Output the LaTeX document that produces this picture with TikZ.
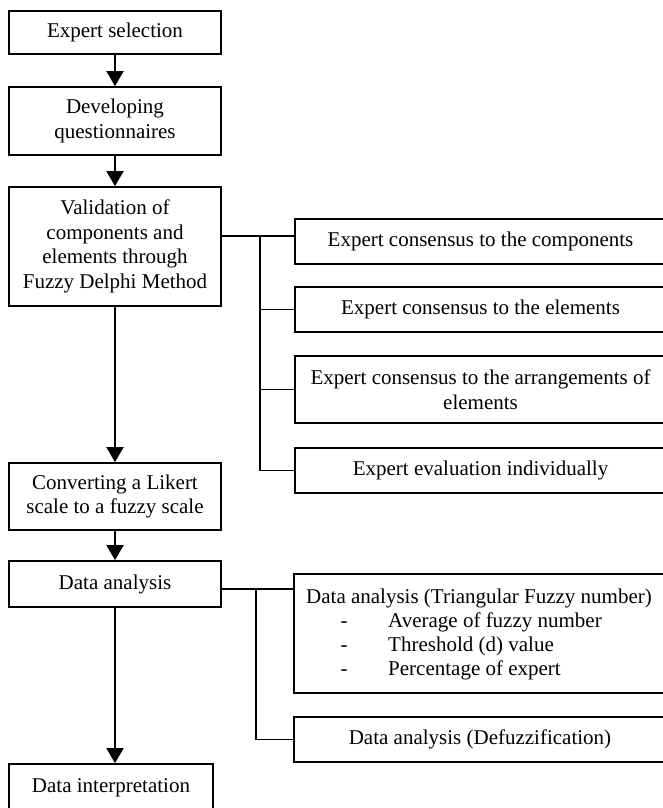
\documentclass[tikz,border=0pt]{standalone}
\usepackage{fontspec}
\setmainfont{Liberation Serif}
\usetikzlibrary{arrows.meta}
\tikzset{
  box/.style={draw, line width=1.8pt, inner sep=0pt, align=center,
    font=\fontsize{21}{24.5}\selectfont},
  txt/.style={inner sep=0pt, font=\fontsize{21}{24.5}\selectfont},
  flow/.style={line width=2pt, -{Triangle[width=17pt,length=15pt]}},
  link/.style={line width=1.3pt},
}
\begin{document}
\begin{tikzpicture}[x=1pt,y=-1pt]
\useasboundingbox (0,0) rectangle (663,808);
\fill[white] (0,0) rectangle (663,808);
\clip (0,0) rectangle (663,808);
% left column
\node[box, minimum width=212, minimum height=43] (B1) at (115,32.5) {Expert selection};
\node[box, minimum width=212, minimum height=68] (B2) at (115,121) {Developing\\questionnaires};
\node[box, minimum width=212, minimum height=119] (B3) at (115,246.5) {Validation of\\components and\\elements through\\Fuzzy Delphi Method};
\node[box, minimum width=212, minimum height=67] (B4) at (115,496.5) {Converting a Likert\\scale to a fuzzy scale};
\node[box, minimum width=212, minimum height=46] (B5) at (115,584) {Data analysis};
\node[box, minimum width=204, minimum height=48] (B6) at (111,788) {Data interpretation};
% right column, upper
\node[box, minimum width=371, minimum height=45] (E1) at (480.5,241.5) {Expert consensus to the components};
\node[box, minimum width=371, minimum height=45] (E2) at (480.5,309.5) {Expert consensus to the elements};
\node[box, minimum width=371, minimum height=67] (E3) at (480.5,389.5) {Expert consensus to the arrangements of\\elements};
\node[box, minimum width=371, minimum height=45] (E4) at (480.5,470.5) {Expert evaluation individually};
% right column, lower
\node[box, minimum width=372, minimum height=119] (D1) at (480,633.5) {};
\node[txt, anchor=base] (D1t) at (479,603) {Data analysis (Triangular Fuzzy number)};
\node[txt, anchor=base] (D1d1) at (344,627) {-};
\node[txt, anchor=base] (D1d2) at (344,651) {-};
\node[txt, anchor=base] (D1d3) at (344,675) {-};
\node[txt, anchor=base west] (D1a) at (388,627) {Average of fuzzy number};
\node[txt, anchor=base west] (D1b) at (388,651) {Threshold (d) value};
\node[txt, anchor=base west] (D1c) at (388,675) {Percentage of expert};
\node[box, minimum width=372, minimum height=45] (D2) at (480,739.5) {Data analysis (Defuzzification)};
% flow arrows
\draw[flow] (B1.south) -- (B1.south |- B2.north);
\draw[flow] (B2.south) -- (B2.south |- B3.north);
\draw[flow] (B3.south) -- (B3.south |- B4.north);
\draw[flow] (B4.south) -- (B4.south |- B5.north);
\draw[flow] (B5.south) -- (B5.south |- B6.north);
% bus 1
\coordinate (t1) at (260,236);
\draw[link] (B3.east |- t1) -- (E1.west |- t1);
\draw[link] (t1) -- (t1 |- E4.west) -- (E4.west);
\draw[link] (t1 |- E2.west) -- (E2.west);
\draw[link] (t1 |- E3.west) -- (E3.west);
% bus 2
\coordinate (t2) at (256,589);
\draw[link] (B5.east |- t2) -- (D1.west |- t2);
\draw[link] (t2) -- (t2 |- D2.west) -- (D2.west);
\end{tikzpicture}
\end{document}
